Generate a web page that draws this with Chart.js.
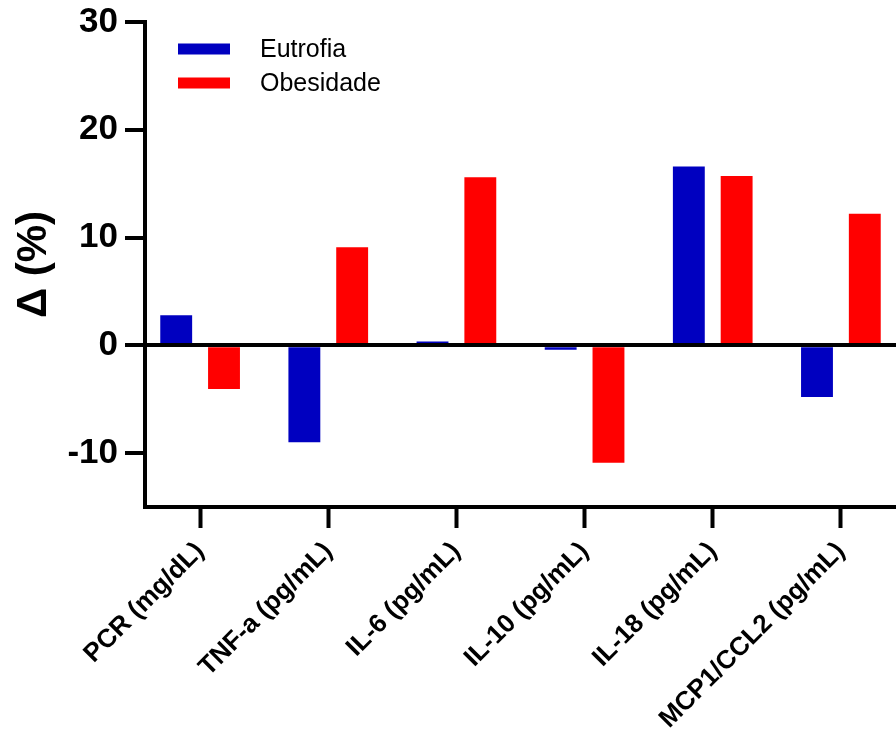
<!DOCTYPE html>
<html><head><meta charset="utf-8">
<script src="https://cdn.jsdelivr.net/npm/chart.js@4.4.1/dist/chart.umd.min.js"></script>
<style>html,body{margin:0;padding:0;background:#fff;overflow:hidden}</style>
</head><body>
<canvas id="c" width="896" height="733"></canvas>
<script>
const categories = ["PCR (mg/dL)", "TNF-a (pg/mL)", "IL-6 (pg/mL)", "IL-10 (pg/mL)", "IL-18 (pg/mL)", "MCP1/CCL2 (pg/mL)"];
const eutrofia = [2.8, -9.0, 0.35, -0.4, 16.6, -4.8];
const obesidade = [-4.05, 9.1, 15.6, -10.9, 15.7, 12.2];
const seriesNames = ["Eutrofia", "Obesidade"];
const yTicks = [-10, 0, 10, 20, 30];
const yMin = -15, yMax = 30;
const yTitle = "Δ (%)";

const FONT = "Arial, 'Liberation Sans', Helvetica, sans-serif";
const EDGE = 0.43;

const legendPlugin = {
  id: 'insetLegend',
  afterDraw(chart) {
    const ctx = chart.ctx;
    ctx.save();
    chart.data.datasets.forEach((ds, i) => {
      const y = 49 + 34 * i;
      ctx.fillStyle = ds.backgroundColor;
      ctx.fillRect(178, y - 5.5, 52, 11);
      ctx.fillStyle = '#000';
      ctx.font = '25px ' + FONT;
      ctx.textBaseline = 'middle';
      ctx.textAlign = 'left';
      ctx.fillText(ds.label, 260, y + 1);
    });
    ctx.restore();
  }
};

new Chart(document.getElementById('c'), {
  type: 'bar',
  data: {
    labels: categories,
    datasets: [
      {label: seriesNames[0], data: eutrofia, backgroundColor: '#0000C0', categoryPercentage: 0.746, barPercentage: 0.667, borderWidth: 0},
      {label: seriesNames[1], data: obesidade, backgroundColor: '#FF0000', categoryPercentage: 0.746, barPercentage: 0.667, borderWidth: 0}
    ]
  },
  options: {
    responsive: false,
    animation: false,
    devicePixelRatio: 1,
    layout: {padding: {top: 22, right: 0, left: 0, bottom: 0}},
    plugins: {legend: {display: false}, tooltip: {enabled: false}},
    scales: {
      x: {
        offset: false,
        grid: {offset: false, drawOnChartArea: false, tickLength: 21, tickWidth: 4, tickColor: '#000'},
        border: {display: true, color: '#000', width: 4},
        ticks: {autoSkip: false, minRotation: 45, maxRotation: 45, color: '#000', padding: 8,
                font: {family: FONT, size: 26, weight: 'bold'}},
        afterBuildTicks(scale) {
          scale._startValue = -EDGE;
          scale._valueRange = categories.length - 1 + 2 * EDGE;
        },
        afterFit(scale) { scale.paddingLeft = 0; scale.paddingRight = 0; scale.height = 226; }
      },
      y: {
        min: yMin, max: yMax,
        afterBuildTicks(scale) { scale.ticks = yTicks.map(v => ({value: v})); },
        grid: {
          z: 1,
          color: c => (c.tick && c.tick.value === 0) ? '#000' : 'rgba(0,0,0,0)',
          lineWidth: c => (c.tick && c.tick.value === 0) ? 4 : 0,
          tickLength: 20, tickWidth: 4, tickColor: '#000'
        },
        border: {display: true, color: '#000', width: 4, z: 1},
        ticks: {color: '#000', padding: 7, font: {family: FONT, size: 35, weight: 'bold'}},
        title: {display: true, text: yTitle, color: '#000', padding: {top: 9, bottom: 0},
                font: {family: FONT, size: 42, weight: 'bold'}},
        afterFit(scale) { scale.width = 145; scale.paddingTop = 0; scale.paddingBottom = 0; }
      }
    }
  },
  plugins: [legendPlugin]
});
</script>
</body></html>
